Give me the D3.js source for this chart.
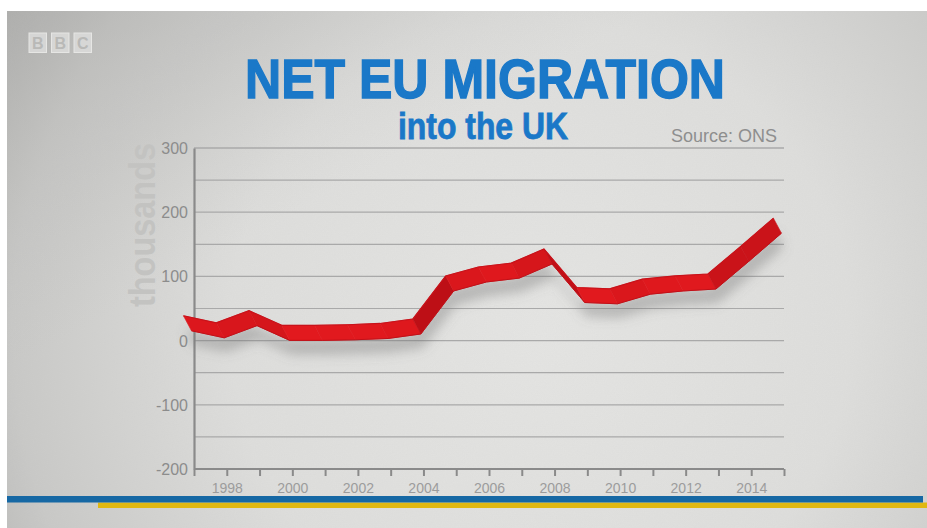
<!DOCTYPE html>
<html>
<head>
<meta charset="utf-8">
<script src="https://cdn.jsdelivr.net/npm/d3@7"></script>
<style>
  html, body { margin: 0; padding: 0; background: #ffffff; }
  svg { display: block; }
</style>
</head>
<body>
<svg id="chart" width="927" height="528"></svg>
<script>
// ---------- data ----------
const years  = [1996,1997,1998,1999,2000,2001,2002,2003,2004,2005,2006,2007,2008,2009,2010,2011,2012,2013,2014];
const netEU  = [27,16,35,12,12,13,15,22,89,103,109,131,71,69,84,89,92,135,179];
const yTicks = [-200,-100,0,100,200,300];
const yGrid  = [-150,-50,50,150,250,300];
const xTickYears  = [1997,1998,1999,2000,2001,2002,2003,2004,2005,2006,2007,2008,2009,2010,2011,2012,2013,2014,2015];
const xLabelYears = [1998,2000,2002,2004,2006,2008,2010,2012,2014];
const titleText = "NET EU MIGRATION";
const subtitleText = "into the UK";
const sourceText = "Source: ONS";
const unitText = "thousands";

// ---------- setup ----------
const svg = d3.select("#chart");
const W = 927, H = 528;
const defs = svg.append("defs");

const rg = defs.append("radialGradient").attr("id","bg")
  .attr("gradientUnits","userSpaceOnUse").attr("cx",540).attr("cy",330).attr("r",620);
rg.append("stop").attr("offset","0").attr("stop-color","#e5e5e3");
rg.append("stop").attr("offset","0.5").attr("stop-color","#dededc");
rg.append("stop").attr("offset","0.85").attr("stop-color","#c9c9c7");
rg.append("stop").attr("offset","1").attr("stop-color","#b4b4b2");

const lg = defs.append("linearGradient").attr("id","tl").attr("x1","0").attr("y1","0").attr("x2","1").attr("y2","1");
lg.append("stop").attr("offset","0").attr("stop-color","#a9a9a7").attr("stop-opacity",0.55);
lg.append("stop").attr("offset","0.35").attr("stop-color","#c0c0be").attr("stop-opacity",0);

const noise = defs.append("filter").attr("id","noise").attr("x",0).attr("y",0).attr("width","100%").attr("height","100%");
noise.append("feTurbulence").attr("type","fractalNoise").attr("baseFrequency","0.9").attr("numOctaves",2).attr("seed",4);
noise.append("feColorMatrix").attr("type","matrix")
  .attr("values","0 0 0 0 0.5  0 0 0 0 0.5  0 0 0 0 0.5  0 0 0 0.10 0");

const blur = defs.append("filter").attr("id","shadow").attr("x","-10%").attr("y","-50%").attr("width","120%").attr("height","200%");
blur.append("feGaussianBlur").attr("stdDeviation",6);

// background (photo area starts at 7,11)
svg.append("rect").attr("x",7).attr("y",11).attr("width",W-7).attr("height",H-11).attr("fill","url(#bg)");
svg.append("rect").attr("x",7).attr("y",11).attr("width",W-7).attr("height",H-11).attr("fill","url(#tl)");
svg.append("rect").attr("x",7).attr("y",11).attr("width",W-7).attr("height",H-11).attr("filter","url(#noise)");

// ---------- BBC logo ----------
const bbc = svg.append("g");
["B","B","C"].forEach((ch,i)=>{
  const bx = 29 + i*22.5;
  bbc.append("rect").attr("x",bx).attr("y",33).attr("width",17.5).attr("height",19.5)
    .attr("fill","#dcdcda").attr("fill-opacity",0.85).attr("stroke","#e6e6e4").attr("stroke-width",1);
  bbc.append("text").attr("x",bx+8.75).attr("y",48.5).attr("text-anchor","middle")
    .attr("font-family","Liberation Sans, Arial, sans-serif").attr("font-weight","bold")
    .attr("font-size",16).attr("fill","#b9b9b7").text(ch);
});

// ---------- scales ----------
const x = d3.scaleLinear().domain([1997,2015]).range([194,784]);
const y = d3.scaleLinear().domain([-200,300]).range([469,148]);

// gridlines
svg.append("g").selectAll("line").data(yGrid.concat(yTicks.filter(v=>v>-200))).join("line")
  .attr("x1",x(1997)).attr("x2",x(2015)).attr("y1",d=>y(d)).attr("y2",d=>y(d))
  .attr("stroke","#a9a9a9").attr("stroke-width",1.2);

// y axis labels
svg.append("g").selectAll("text").data(yTicks).join("text")
  .attr("x",188).attr("y",d=>y(d)+6).attr("text-anchor","end")
  .attr("font-family","Liberation Sans, Arial, sans-serif").attr("font-size",16)
  .attr("fill","#8c8c8c").text(d=>d);

// thousands label
svg.append("text").attr("transform","translate(155,225) rotate(-90)")
  .attr("text-anchor","middle").attr("font-family","Liberation Sans, Arial, sans-serif")
  .attr("font-weight","bold").attr("font-size",36).attr("fill","#c3c3c1")
  .attr("textLength",164).attr("lengthAdjust","spacingAndGlyphs").text(unitText);

// axes
const xAxis = d3.axisBottom(x).tickValues(xTickYears).tickSize(7).tickFormat(d=>xLabelYears.includes(d)?d:"");
const gx = svg.append("g").attr("transform",`translate(0,${y(-200)})`).call(xAxis);
gx.select(".domain").attr("stroke","#8a8a8a").attr("stroke-width",2.2).attr("d",`M${x(1997)},0H${x(2015)}`);
gx.selectAll(".tick line").attr("stroke","#8a8a8a").attr("stroke-width",2);
gx.selectAll(".tick text").attr("font-family","Liberation Sans, Arial, sans-serif").attr("font-size",14)
  .attr("fill","#9c9c9c").attr("dy","1em");

const yAxis = d3.axisLeft(y).tickValues([]).tickSizeOuter(0);
const gy = svg.append("g").attr("transform",`translate(${x(1997)},0)`).call(yAxis);
gy.select(".domain").attr("stroke","#8a8a8a").attr("stroke-width",2.2);

// ---------- ribbon ----------
const pts = years.map((t,i)=>({x: x(t+0.8), y: y(netEU[i])}));
const dx = 4, dy = 7.5;
const outline = d3.line()
  (pts.map(p=>[p.x-dx,p.y-dy]).concat(pts.slice().reverse().map(p=>[p.x+dx,p.y+dy]))) + "Z";

svg.append("path").attr("d",outline).attr("transform","translate(2,14)")
  .attr("fill","#6f6f6f").attr("fill-opacity",0.38).attr("filter","url(#shadow)");

const segs = d3.pairs(pts);
const shade = d3.interpolateRgb("#e2191e","#b50d14");
svg.append("g").selectAll("path").data(segs).join("path")
  .attr("d",([a,b])=>d3.line()([[a.x-dx,a.y-dy],[b.x-dx,b.y-dy],[b.x+dx,b.y+dy],[a.x+dx,a.y+dy]])+"Z")
  .attr("fill",([a,b])=>shade(Math.min(1,Math.abs((b.y-a.y)/(b.x-a.x))/1.6)))
  .attr("stroke",([a,b])=>shade(Math.min(1,Math.abs((b.y-a.y)/(b.x-a.x))/1.6)))
  .attr("stroke-width",0.6).attr("stroke-linejoin","round");

svg.append("path").attr("d",d3.line()(pts.map(p=>[p.x-dx,p.y-dy])))
  .attr("fill","none").attr("stroke","#c8121a").attr("stroke-width",1.2);
svg.append("path").attr("d",d3.line()(pts.map(p=>[p.x+dx,p.y+dy])))
  .attr("fill","none").attr("stroke","#c01018").attr("stroke-width",1);

// ---------- titles ----------
svg.append("text").attr("x",245).attr("y",98)
  .attr("font-family","Liberation Sans Narrow, Liberation Sans, Arial, sans-serif").attr("font-weight","bold")
  .attr("font-size",56).attr("fill","#1a78c8").attr("stroke","#1a78c8").attr("stroke-width",1.4)
  .attr("textLength",480).attr("lengthAdjust","spacingAndGlyphs").text(titleText);
svg.append("text").attr("x",398).attr("y",139)
  .attr("font-family","Liberation Sans Narrow, Liberation Sans, Arial, sans-serif").attr("font-weight","bold")
  .attr("font-size",36).attr("fill","#1a78c8").attr("stroke","#1a78c8").attr("stroke-width",0.8)
  .attr("textLength",170).attr("lengthAdjust","spacingAndGlyphs").text(subtitleText);
svg.append("text").attr("x",777).attr("y",142).attr("text-anchor","end")
  .attr("font-family","Liberation Sans, Arial, sans-serif").attr("font-size",18)
  .attr("fill","#8e8e8e").text(sourceText);

// ---------- bottom stripes ----------
svg.append("rect").attr("x",98).attr("y",502.5).attr("width",W-98).attr("height",5.5).attr("fill","#e0b812");
svg.append("rect").attr("x",7).attr("y",496).attr("width",916).attr("height",6.5).attr("fill","#1668a4");
</script>
</body>
</html>
